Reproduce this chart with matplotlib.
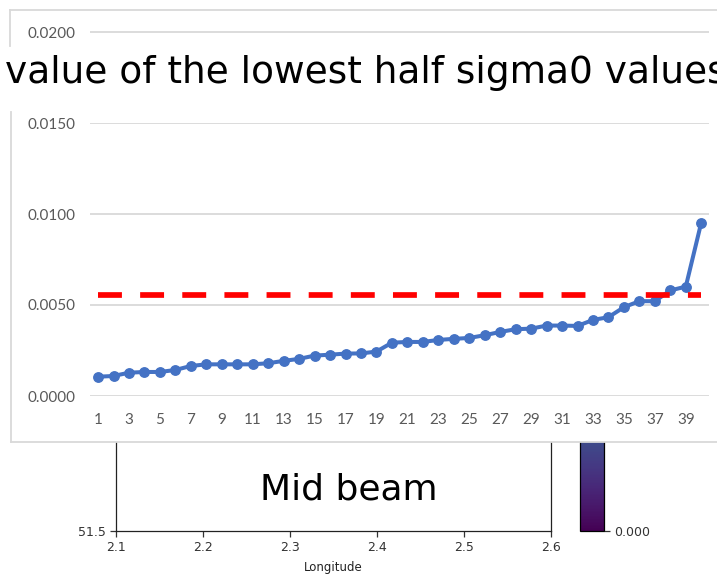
import matplotlib
matplotlib.use("Agg")
import matplotlib.pyplot as plt
import numpy as np
from matplotlib.cm import ScalarMappable
from matplotlib.colors import Normalize

# sorted sigma0 values of the lowest half, one per sample index
sample_idx = np.arange(1, 41)
sigma0_low = [0.00106, 0.00110, 0.00128, 0.00132, 0.00132, 0.00143, 0.00165, 0.00174,
              0.00174, 0.00174, 0.00174, 0.00180, 0.00193, 0.00204, 0.00222, 0.00227,
              0.00233, 0.00234, 0.00244, 0.00293, 0.00297, 0.00297, 0.00308, 0.00314,
              0.00319, 0.00334, 0.00352, 0.00367, 0.00370, 0.00387, 0.00387, 0.00385,
              0.00418, 0.00433, 0.00488, 0.00521, 0.00521, 0.00580, 0.00601, 0.00953]
threshold = 0.00556
y_ticks = [0.0, 0.005, 0.010, 0.015]
x_ticks = list(range(1, 40, 2))

# map panel underneath
lon_ticks = [2.1, 2.2, 2.3, 2.4, 2.5, 2.6]
lat_ticks = [51.5]
cbar_ticks = [0.0]

W, H = 717, 576


def box(x0, y0, x1, y1):
    return [x0 / W, 1 - y1 / H, (x1 - x0) / W, (y1 - y0) / H]


fig = plt.figure(figsize=(W / 100, H / 100), dpi=100)
fig.patch.set_facecolor("white")

grey = "#595959"
light = "#D9D9D9"
blue = "#4472C4"

# --- map axes (partly hidden behind the chart) ---
mp = fig.add_axes(box(116, 300, 551, 531))
mp.set_zorder(1)
mp.set_xlim(2.1, 2.6)
mp.set_ylim(51.5, 52.0)
mp.set_xticks(lon_ticks)
mp.set_xticklabels([f"{t:.1f}" for t in lon_ticks])
mp.set_yticks(lat_ticks)
mp.set_yticklabels([f"{t:.1f}" for t in lat_ticks])
mp.tick_params(labelsize=9, length=4, width=0.9, colors="#333333")
mp.spines["top"].set_visible(False)
for s in ["left", "bottom", "right"]:
    mp.spines[s].set_linewidth(0.9)
    mp.spines[s].set_color("#222222")
mp.set_xlabel("Longitude", fontsize=8.5, labelpad=5, color="#222222")
mp.text(0.535, 0.18, "Mid beam", transform=mp.transAxes, ha="center",
        va="center", fontsize=26)

# --- colorbar next to the map ---
cax = fig.add_axes(box(580, 135, 604, 531))
cax.set_zorder(1)
sm = ScalarMappable(norm=Normalize(0.0, 1.0), cmap="viridis")
cb = fig.colorbar(sm, cax=cax, ticks=cbar_ticks, format="%.3f")
cb.outline.set_linewidth(0.9)
cb.ax.tick_params(labelsize=9, length=4, width=0.9, colors="#333333")

# --- strip of the chart above ---
top_frame = fig.add_axes(box(10, 10, 740, 46))
top_frame.set_zorder(3)
top_frame.set_xticks([])
top_frame.set_yticks([])
for s in ["bottom", "right"]:
    top_frame.spines[s].set_visible(False)
for s in ["top", "left"]:
    top_frame.spines[s].set_color(light)
    top_frame.spines[s].set_linewidth(1.3)

top_ax = fig.add_axes(box(90.3, 10, 709, 46))
top_ax.set_zorder(4)
top_ax.patch.set_alpha(0)
px = 0.005 / 91
top_ax.set_ylim(0.02 - 14 * px, 0.02 + 22 * px)
top_ax.set_xlim(0.5, 40.5)
top_ax.set_yticks([0.02])
top_ax.set_yticklabels(["0.0200"])
top_ax.set_xticks([])
top_ax.grid(axis="y", color=light, linewidth=1.3)
top_ax.tick_params(length=0, pad=11, labelsize=11, labelcolor=grey)
for lbl in top_ax.get_yticklabels():
    lbl.set_family("Lato")
for s in top_ax.spines.values():
    s.set_visible(False)

fig.text(5 / W, 1 - 73 / H, "value of the lowest half sigma0 values",
         fontsize=27, va="center", ha="left", zorder=10)

# --- main chart frame ---
frame = fig.add_axes(box(11, 112, 740, 442))
frame.set_zorder(5)
frame.set_facecolor("white")
frame.set_xticks([])
frame.set_yticks([])
for s in ["top", "right"]:
    frame.spines[s].set_visible(False)
for s in ["left", "bottom"]:
    frame.spines[s].set_color(light)
    frame.spines[s].set_linewidth(1.3)

ax = fig.add_axes(box(90.3, 123, 709, 396))
ax.set_zorder(6)
ax.patch.set_alpha(0)
ax.plot(sample_idx, sigma0_low, color=blue, linewidth=2.9, marker="o",
        markersize=6.8, zorder=3)
ax.plot(sample_idx, [threshold] * len(sample_idx), color="#FF0000",
        linewidth=4.1, dashes=(4.2, 3.2), dash_capstyle="butt", zorder=4)
ax.set_xlim(0.5, 40.5)
ax.set_ylim(0, 0.015)
ax.set_yticks(y_ticks)
ax.set_yticklabels([f"{t:.4f}" for t in y_ticks])
ax.set_xticks(x_ticks)
ax.set_xticklabels([str(t) for t in x_ticks])
ax.grid(axis="y", color=light, linewidth=1.3, zorder=0)
ax.set_axisbelow(True)
ax.tick_params(length=0, labelsize=11, labelcolor=grey)
ax.tick_params(axis="y", pad=11)
ax.tick_params(axis="x", pad=12)
for lbl in ax.get_xticklabels() + ax.get_yticklabels():
    lbl.set_family("Lato")
for s in ax.spines.values():
    s.set_visible(False)

fig.savefig("out.png", dpi=100, facecolor="white")
